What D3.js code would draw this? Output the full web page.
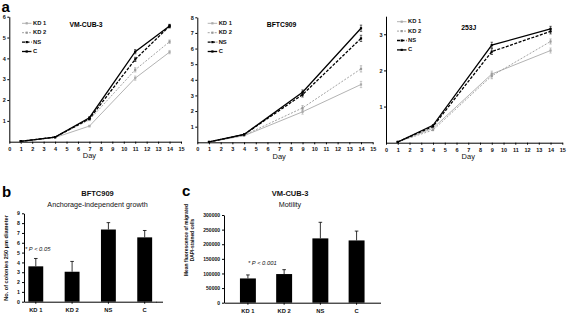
<!DOCTYPE html>
<html>
<head>
<meta charset="utf-8">
<script src="https://cdn.jsdelivr.net/npm/d3@7"></script>
<style>
    body { margin: 0; background: white; }
    text { font-family: "Liberation Sans", Arial, sans-serif; }
</style>
</head>
<body>
<div id="canvas"></div>
<script>
"use strict"

let svgWidth = 567
let svgHeight = 313

// growth curves (panel a)
let seriesNames = ["KD 1", "KD 2", "NS", "C"]
let dayTicks = d3.range(0, 16)

let vmDays = [1, 4, 7, 11, 14]
let vmKD1 = [0.02, 0.2, 0.75, 3.05, 4.3]
let vmKD2 = [0.02, 0.22, 1.05, 3.45, 4.8]
let vmNS = [0.02, 0.22, 1.1, 3.95, 5.55]
let vmC = [0.02, 0.22, 1.15, 4.32, 5.55]
let vmErr = [0, 0, 0.04, 0.1, 0.08]

let bfDays = [1, 4, 9, 14]
let bfKD1 = [0.02, 0.42, 1.95, 3.7]
let bfKD2 = [0.02, 0.45, 2.2, 4.7]
let bfNS = [0.02, 0.5, 3.05, 6.65]
let bfC = [0.02, 0.5, 3.2, 7.3]
let bfErr = [0, 0, 0.15, 0.2]

let jDays = [1, 4, 9, 14]
let jKD1 = [0.02, 0.4, 1.9, 2.55]
let jKD2 = [0.02, 0.35, 1.85, 2.8]
let jNS = [0.02, 0.45, 2.52, 3.08]
let jC = [0.02, 0.48, 2.7, 3.15]
let jErr = [0, 0, 0.08, 0.07]

// bar charts (panels b and c)
let barCategories = ["KD 1", "KD 2", "NS", "C"]
let colonyValues = [3.6, 3.05, 7.35, 6.55]
let colonyErrors = [0.8, 1.05, 0.7, 0.7]
let motilityValues = [83000, 98000, 220000, 213000]
let motilityErrors = [12000, 15000, 55000, 32000]

let lineStyles = {
    "KD 1": { color: "#aaaaaa", dash: null, width: 0.9 },
    "KD 2": { color: "#999999", dash: "2,1.5", width: 0.9 },
    "NS": { color: "#000000", dash: "3,1.5", width: 1.3 },
    "C": { color: "#000000", dash: null, width: 1.3 }
}

let svg = d3.select("#canvas")
    .append("svg")
    .attr("width", svgWidth)
    .attr("height", svgHeight)

svg.append("rect")
    .attr("width", svgWidth)
    .attr("height", svgHeight)
    .attr("fill", "white")

function styleAxis(g) {
    g.selectAll("path, line").attr("stroke", "black").attr("stroke-width", 1)
    g.selectAll("text")
        .style("font-size", "5.5px")
        .style("font-weight", "bold")
        .attr("fill", "#111")
}

function drawGrowth(opts) {
    let xScale = d3.scaleLinear().domain([0, 15]).range(opts.xRange)
    let yScale = d3.scaleLinear().domain([0, opts.yMax]).range(opts.yRange)

    let xAxis = svg.append("g")
        .attr("transform", `translate(0, ${opts.yRange[0]})`)
        .call(d3.axisBottom(xScale).tickValues(dayTicks).tickSize(2).tickPadding(3).tickSizeOuter(0))
    styleAxis(xAxis)

    let yAxis = svg.append("g")
        .attr("transform", `translate(${opts.xRange[0]}, 0)`)
        .call(d3.axisLeft(yScale)
            .tickValues(d3.range(1, Math.floor(opts.yMax) + 1))
            .tickFormat(d3.format("d"))
            .tickSize(2).tickPadding(1.5).tickSizeOuter(0))
    styleAxis(yAxis)

    svg.append("text")
        .attr("x", xScale(7))
        .attr("y", opts.yRange[0] + 16.5)
        .attr("text-anchor", "middle")
        .style("font-size", "7.5px")
        .attr("fill", "#111")
        .text("Day")

    svg.append("text")
        .attr("x", opts.titleX)
        .attr("y", opts.titleY)
        .attr("text-anchor", "middle")
        .style("font-size", "6.8px")
        .style("font-weight", "bold")
        .text(opts.title)

    let line = d3.line()
        .x(d => xScale(d.day))
        .y(d => yScale(d.value))

    seriesNames.forEach(function (name, i) {
        let st = lineStyles[name]
        let points = opts.days.map((day, j) => ({ day: day, value: opts.series[i][j], err: opts.err[j] }))

        svg.append("path")
            .datum(points)
            .attr("d", line)
            .attr("fill", "none")
            .attr("stroke", st.color)
            .attr("stroke-width", st.width)
            .attr("stroke-dasharray", st.dash)

        svg.selectAll(null)
            .data(points.filter(p => p.err > 0))
            .join("path")
            .attr("d", p => {
                let x = xScale(p.day), y1 = yScale(p.value - p.err), y2 = yScale(p.value + p.err)
                return `M${x - 1.2},${y1}H${x + 1.2}M${x},${y1}V${y2}M${x - 1.2},${y2}H${x + 1.2}`
            })
            .attr("fill", "none")
            .attr("stroke", st.color)
            .attr("stroke-width", 0.6)

        svg.selectAll(null)
            .data(points)
            .join("rect")
            .attr("x", p => xScale(p.day) - 1.1)
            .attr("y", p => yScale(p.value) - 1.1)
            .attr("width", 2.2)
            .attr("height", 2.2)
            .attr("fill", st.color)

        // legend
        let ly = opts.legendY + i * 9.4
        svg.append("line")
            .attr("x1", opts.legendX)
            .attr("x2", opts.legendX + 9.5)
            .attr("y1", ly)
            .attr("y2", ly)
            .attr("stroke", st.color)
            .attr("stroke-width", st.width)
            .attr("stroke-dasharray", st.dash)
        svg.append("rect")
            .attr("x", opts.legendX + 3.6)
            .attr("y", ly - 1.1)
            .attr("width", 2.2)
            .attr("height", 2.2)
            .attr("fill", st.color)
        svg.append("text")
            .attr("x", opts.legendX + 11)
            .attr("y", ly)
            .attr("dominant-baseline", "middle")
            .style("font-size", "5.8px")
            .style("font-weight", "bold")
            .attr("fill", "#111")
            .text(name)
    })
}

function drawBars(opts) {
    let xScale = d3.scaleBand()
        .domain(barCategories)
        .range(opts.xRange)
        .paddingInner(opts.padInner)
        .paddingOuter(opts.padOuter)
    let yScale = d3.scaleLinear().domain([0, opts.yMax]).range(opts.yRange)

    let xAxis = svg.append("g")
        .attr("transform", `translate(0, ${opts.yRange[0]})`)
        .call(d3.axisBottom(xScale).tickSize(2).tickPadding(4).tickSizeOuter(0))
    styleAxis(xAxis)
    xAxis.selectAll("text").style("font-size", "5.8px")

    svg.append("line")
        .attr("x1", opts.xRange[1])
        .attr("x2", opts.axisEnd)
        .attr("y1", opts.yRange[0] + 0.5)
        .attr("y2", opts.yRange[0] + 0.5)
        .attr("stroke", "black")

    let yAxis = svg.append("g")
        .attr("transform", `translate(${opts.xRange[0]}, 0)`)
        .call(d3.axisLeft(yScale).tickValues(opts.yTicks).tickFormat(d3.format("d")).tickSize(2).tickPadding(2).tickSizeOuter(0))
    styleAxis(yAxis)
    yAxis.selectAll("text").style("font-size", opts.tickFont)

    svg.selectAll(null)
        .data(opts.values)
        .join("line")
        .attr("x1", (d, i) => xScale(barCategories[i]) + xScale.bandwidth() / 2)
        .attr("x2", (d, i) => xScale(barCategories[i]) + xScale.bandwidth() / 2)
        .attr("y1", d => yScale(d))
        .attr("y2", (d, i) => yScale(d + opts.errors[i]))
        .attr("stroke", "black")
        .attr("stroke-width", 0.8)

    svg.selectAll(null)
        .data(opts.values)
        .join("line")
        .attr("x1", (d, i) => xScale(barCategories[i]) + xScale.bandwidth() / 2 - 1.8)
        .attr("x2", (d, i) => xScale(barCategories[i]) + xScale.bandwidth() / 2 + 1.8)
        .attr("y1", (d, i) => yScale(d + opts.errors[i]))
        .attr("y2", (d, i) => yScale(d + opts.errors[i]))
        .attr("stroke", "black")
        .attr("stroke-width", 0.8)

    svg.selectAll(null)
        .data(opts.values)
        .join("rect")
        .attr("x", (d, i) => xScale(barCategories[i]))
        .attr("y", d => yScale(d))
        .attr("width", xScale.bandwidth())
        .attr("height", d => yScale(0) - yScale(d))
        .attr("fill", "black")

    opts.titleLines.forEach(function (t, i) {
        svg.append("text")
            .attr("x", opts.titleX)
            .attr("y", 196 + i * 10.5)
            .attr("text-anchor", "middle")
            .style("font-size", i == 0 ? "7.5px" : "7.2px")
            .style("font-weight", i == 0 ? "bold" : "normal")
            .attr("fill", "#111")
            .text(t)
    })

    svg.append("text")
        .attr("x", opts.noteX)
        .attr("y", opts.noteY)
        .style("font-size", "5.8px")
        .style("font-style", "italic")
        .attr("fill", "#111")
        .text(opts.note)

    opts.yLabel.forEach(function (t, i) {
        svg.append("text")
            .attr("transform", `translate(${opts.yLabelX + i * 6}, ${opts.yLabelY}) rotate(-90)`)
            .attr("text-anchor", "middle")
            .style("font-size", opts.yLabelFont)
            .style("font-weight", "bold")
            .attr("fill", "#111")
            .text(t)
    })
}

drawGrowth({
    xRange: [9.3, 181], yRange: [141.7, 16.7], yMax: 6,
    days: vmDays, series: [vmKD1, vmKD2, vmNS, vmC], err: vmErr,
    title: "VM-CUB-3", titleX: 86, titleY: 27, legendX: 22, legendY: 23.3
})
drawGrowth({
    xRange: [197.3, 372.7], yRange: [142.3, 17.3], yMax: 8,
    days: bfDays, series: [bfKD1, bfKD2, bfNS, bfC], err: bfErr,
    title: "BFTC909", titleX: 281.5, titleY: 27, legendX: 207.7, legendY: 23.3
})
drawGrowth({
    xRange: [386, 562.3], yRange: [142.7, 16.2], yMax: 3.5,
    days: jDays, series: [jKD1, jKD2, jNS, jC], err: jErr,
    title: "253J", titleX: 468.7, titleY: 30, legendX: 397, legendY: 21.7
})

drawBars({
    xRange: [24, 156.5], axisEnd: 163, padInner: 0.59, padOuter: 0.12,
    yRange: [301.7, 213.3], yMax: 9, yTicks: d3.range(0, 10), tickFont: "5.2px",
    values: colonyValues, errors: colonyErrors,
    titleLines: ["BFTC909", "Anchorage-independent growth"], titleX: 97.5,
    note: "* P < 0.05", noteX: 25, noteY: 251,
    yLabel: ["No. of colonies 250 \u00b5m diameter"], yLabelX: 8, yLabelY: 258, yLabelFont: "5.6px"
})
drawBars({
    xRange: [224, 380.5], axisEnd: 380.5, padInner: 0.56, padOuter: 0.44,
    yRange: [302.7, 215], yMax: 300000, yTicks: d3.range(0, 300001, 50000), tickFont: "5px",
    values: motilityValues, errors: motilityErrors,
    titleLines: ["VM-CUB-3", "Motility"], titleX: 290,
    note: "* P < 0.001", noteX: 248, noteY: 265,
    yLabel: ["Mean fluorescence of migrated", "DAPI-stained cells"], yLabelX: 187.5, yLabelY: 240, yLabelFont: "4.9px"
})

// panel letters
let letters = [["a", 1.5, 12], ["b", 2, 197], ["c", 182, 196]]
letters.forEach(function (l) {
    svg.append("text")
        .attr("x", l[1])
        .attr("y", l[2])
        .style("font-size", "15px")
        .style("font-weight", "bold")
        .text(l[0])
})
</script>
</body>
</html>
